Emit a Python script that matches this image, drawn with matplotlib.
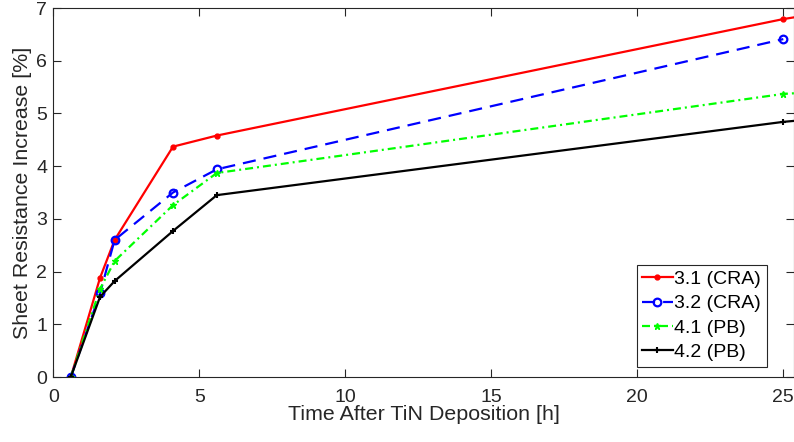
import numpy as np
import matplotlib.pyplot as plt

plt.rcParams['font.family'] = ['Liberation Sans', 'DejaVu Sans']

# time after TiN deposition [h]
t = [0.6, 1.6, 2.1, 4.1, 5.6, 25.0]
t_ext = t + [50.0]

r31 = [0, 1.88, 2.60, 4.37, 4.58, 6.79, 9.0]   # 3.1 (CRA)
r32 = [0, 1.59, 2.60, 3.50, 3.94, 6.41]        # 3.2 (CRA)
r41 = [0, 1.67, 2.20, 3.26, 3.87, 5.37, 6.2]   # 4.1 (PB)
r42 = [0, 1.52, 1.82, 2.77, 3.45, 4.84, 6.1]   # 4.2 (PB)

labels = ['3.1 (CRA)', '3.2 (CRA)', '4.1 (PB)', '4.2 (PB)']

fig = plt.figure(figsize=(7.94, 4.42), dpi=100)
ax = fig.add_axes([53.3/794, 65/442, (794-53.3)/794, (377-8)/442])

ax.plot(t_ext, r31, '.-', color='#ff0000', lw=1.6, ms=7, label=labels[0])
ax.plot(t, r32, 'o', ls=(0, (5.9, 3.6)), color='#0000ff', lw=1.6, ms=5.5,
        mfc='none', mew=1.6, label=labels[1])
ax.plot(t_ext, r41, '*', ls=(0, (3.6, 1.8, 0.9, 1.8)), color='#00ff00', lw=1.6,
        ms=4.5, label=labels[2])
ax.plot(t_ext, r42, '+-', color='#000000', lw=1.6, ms=5, mew=1.5, label=labels[3])

ax.set_xlim(0, (794-53.3)/29.2)
ax.set_ylim(0, 7)
ax.set_xticks([0, 5, 10, 15, 20, 25])
ax.set_yticks(range(8))

c = '#262626'
for s in ax.spines.values():
    s.set_color('#262626')
    s.set_linewidth(0.8)
ax.tick_params(direction='in', top=True, right=True, labelsize=14, colors=c,
               length=6, width=0.8)
ax.tick_params(axis='x', pad=9)
ax.tick_params(axis='y', pad=4.5)
ax.set_xlabel('Time After TiN Deposition [h]', fontsize=15.4, color=c, labelpad=-1)
ax.set_ylabel('Sheet Resistance Increase [%]', fontsize=15.4, color=c, labelpad=3)

leg = ax.legend(loc='lower right', bbox_to_anchor=(0.9636, 0.027), fontsize=14,
                handlelength=1.55, handletextpad=0.1, borderpad=0.3, labelspacing=0.35,
                fancybox=False, framealpha=1, edgecolor='#262626', borderaxespad=0)
leg.get_frame().set_linewidth(0.8)

fig.savefig('out.png', dpi=100)
